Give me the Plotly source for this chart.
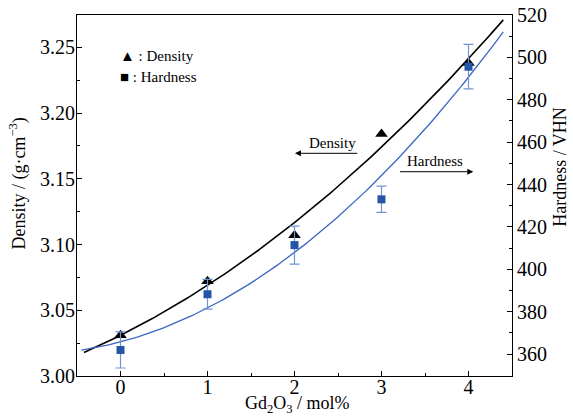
import numpy as np
import plotly.graph_objects as go

# Data
gd2o3 = [0, 1, 2, 3, 4]
density = [3.031, 3.072, 3.107, 3.184, 3.238]
hardness = [361.9, 388.2, 411.4, 433.0, 495.6]
hardness_err = [8.5, 7.0, 9.0, 6.2, 10.5]

x_ticks = [0, 1, 2, 3, 4]
density_ticks = [3.00, 3.05, 3.10, 3.15, 3.20, 3.25]
hardness_ticks = [360, 380, 400, 420, 440, 460, 480, 500, 520]

# Quadratic trend lines fitted to the data
pd_fit = np.polyfit(gd2o3, density, 2)
ph_fit = np.polyfit(gd2o3, hardness, 2)
xd = np.linspace(-0.42, 4.4, 120)
xh = np.linspace(-0.45, 4.4, 120)

FONT = "Liberation Serif"
BLACK = "#000000"
BLUE_LINE = "#3a66c4"
BLUE_MARK = "#2456a8"
BLUE_ERR = "#7393d3"

fig = go.Figure()
fig.add_trace(go.Scatter(x=xd, y=np.polyval(pd_fit, xd), mode="lines",
                         line=dict(color=BLACK, width=1.6), showlegend=False))
fig.add_trace(go.Scatter(x=gd2o3, y=density, mode="markers",
                         marker=dict(symbol="triangle-up", size=11, color=BLACK),
                         showlegend=False))
fig.add_trace(go.Scatter(x=xh, y=np.polyval(ph_fit, xh), mode="lines", yaxis="y2",
                         line=dict(color=BLUE_LINE, width=1.3), showlegend=False))
fig.add_trace(go.Scatter(x=gd2o3, y=hardness, mode="markers", yaxis="y2",
                         marker=dict(symbol="square", size=8, color=BLUE_MARK),
                         error_y=dict(type="data", array=hardness_err, visible=True,
                                      color=BLUE_ERR, thickness=1.2, width=5),
                         showlegend=False))

# Legend-like labels
fig.add_annotation(x=-0.03, y=3.2434, xref="x", yref="y", text="▲ : Density",
                   showarrow=False, xanchor="left", yanchor="middle",
                   font=dict(family=FONT, size=15, color=BLACK))
fig.add_annotation(x=-0.03, y=3.2274, xref="x", yref="y", text="■ : Hardness",
                   showarrow=False, xanchor="left", yanchor="middle",
                   font=dict(family=FONT, size=15, color=BLACK))

# Direction arrows
fig.add_annotation(x=2.005, y=3.1694, ax=2.738, ay=3.1694, xref="x", yref="y",
                   axref="x", ayref="y", text="", showarrow=True, arrowhead=2,
                   arrowsize=1.2, arrowwidth=1, arrowcolor=BLACK)
fig.add_annotation(x=2.44, y=3.1774, xref="x", yref="y", text="Density",
                   showarrow=False, font=dict(family=FONT, size=15, color=BLACK))
fig.add_annotation(x=4.055, y=3.1554, ax=3.196, ay=3.1554, xref="x", yref="y",
                   axref="x", ayref="y", text="", showarrow=True, arrowhead=2,
                   arrowsize=1.2, arrowwidth=1, arrowcolor=BLACK)
fig.add_annotation(x=3.62, y=3.1635, xref="x", yref="y", text="Hardness",
                   showarrow=False, font=dict(family=FONT, size=15, color=BLACK))

tickfont = dict(family=FONT, size=20, color=BLACK)
titlefont = dict(family=FONT, size=18, color=BLACK)

# Axis titles placed as paper annotations
fig.add_annotation(x=0.508, y=-0.079, xref="paper", yref="paper",
                   text="Gd<sub>2</sub>O<sub>3</sub> / mol%", showarrow=False,
                   xanchor="center", yanchor="middle", font=titlefont)
fig.add_annotation(x=-0.1356, y=0.533, xref="paper", yref="paper",
                   text="Density / (g·cm<sup>−3</sup>)", showarrow=False, textangle=-90,
                   xanchor="center", yanchor="middle", font=titlefont)
fig.add_annotation(x=1.110, y=0.579, xref="paper", yref="paper",
                   text="Hardness / VHN", showarrow=False, textangle=-90,
                   xanchor="center", yanchor="middle", font=titlefont)

fig.update_layout(
    width=573, height=417,
    margin=dict(l=77, r=61, t=15, b=41),
    paper_bgcolor="white", plot_bgcolor="white",
    xaxis=dict(range=[-0.5, 4.5], tickvals=x_ticks, ticks="inside", ticklen=5,
               tickcolor=BLACK, showline=True, linecolor=BLACK, linewidth=1.2,
               mirror=True, showgrid=False, zeroline=False, tickfont=tickfont,
               automargin=False, ticklabelstandoff=-7,
               minor=dict(dtick=0.5, ticks="inside", ticklen=3, tickcolor=BLACK)),
    yaxis=dict(range=[3.0, 3.2746], tickvals=density_ticks,
               ticktext=[f"{v:.2f}" for v in density_ticks],
               ticks="inside", ticklen=5, tickcolor=BLACK,
               showline=True, linecolor=BLACK, linewidth=1.2, showgrid=False,
               zeroline=False, tickfont=tickfont, automargin=False,
               ticklabelstandoff=-3,
               minor=dict(dtick=0.025, ticks="inside", ticklen=3, tickcolor=BLACK)),
    yaxis2=dict(range=[349.62, 520], tickvals=hardness_ticks, overlaying="y",
                side="right", ticks="inside", ticklen=5, tickcolor=BLACK,
                showline=True, linecolor=BLACK, linewidth=1.2, showgrid=False,
                zeroline=False, tickfont=tickfont, automargin=False,
                minor=dict(dtick=10, ticks="inside", ticklen=3, tickcolor=BLACK)),
)

fig.write_html("out.html")
